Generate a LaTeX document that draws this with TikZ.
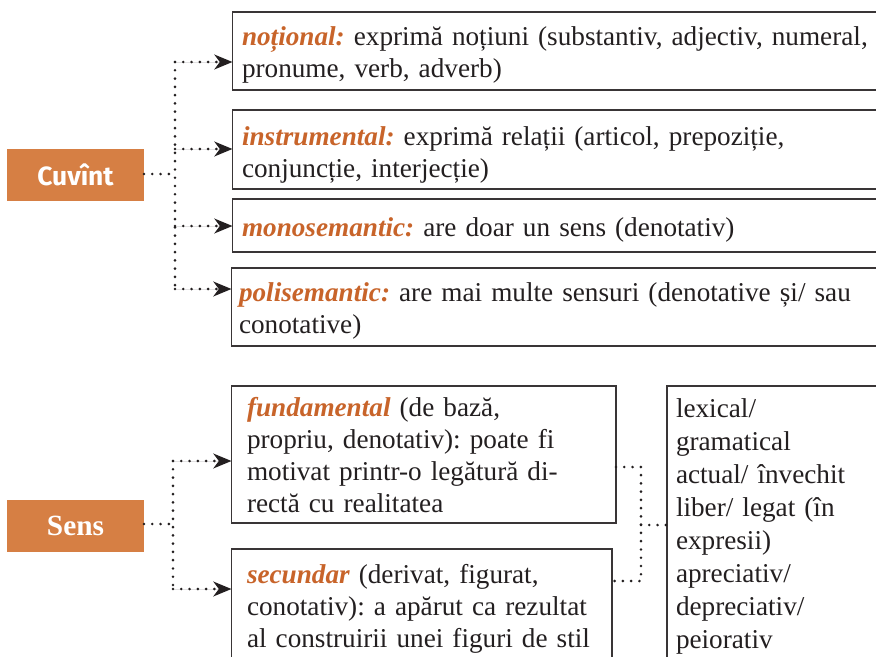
\documentclass[tikz,border=0pt]{standalone}
\usepackage{fontspec}
\setmainfont{Liberation Serif}
\newfontfamily\headsans{Fira Sans}
\usetikzlibrary{arrows.meta,fit}
\definecolor{boxorange}{HTML}{D67F44}
\definecolor{labelorange}{HTML}{C8642A}
\definecolor{ink}{HTML}{231F20}
\newcommand\kw[1]{\textcolor{labelorange}{\bfseries\itshape #1}}
\frenchspacing
\begin{document}
\begin{tikzpicture}[x=0.75pt,y=-0.75pt,
  every node/.style={inner sep=0pt, outer sep=0pt},
  head/.style={fill=boxorange, text=white, minimum width=102.75pt, minimum height=39pt},
  frame/.style={draw=ink!90, line width=1pt},
  body/.style={anchor=base west, align=left, text=ink, text width=560pt,
    font=\fontsize{20.4}{24}\selectfont},
  bodywide/.style={body, font=\fontsize{20.4}{24.75}\selectfont},
  dotline/.style={draw=ink, line width=2.2pt, dash pattern=on 0pt off 6.2pt, line cap=round},
  arr/.style={-{Stealth[length=13.5pt,width=11pt,inset=4pt]}, fill=ink}
]
\clip (0,0) rectangle (876,657);
\fill[white] (0,0) rectangle (876,657);

% heads
\node[head, font=\headsans\bfseries\fontsize{19.8}{22}\selectfont] (cuv) at (75.5,175) {Cuvînt};
\node[head, font=\bfseries\fontsize{22}{24}\selectfont] (sens) at (75.5,525.5) {Sens};

% top boxes
\node[frame, fit={(232.5,12) (900,90)}] (b1) {};
\node[frame, fit={(232.5,110) (900,189)}] (b2) {};
\node[frame, fit={(232.5,199) (900,252)}] (b3) {};
\node[frame, fit={(231.5,268) (900,346)}] (b4) {};

\node[body] (t1) at (242,45) {\kw{noțional:} exprimă noțiuni (substantiv, adjectiv, numeral,\\pronume, verb, adverb)};
\node[body] (t2) at (242,145) {\kw{instrumental:} exprimă relații (articol, prepoziție,\\conjuncție, interjecție)};
\node[body] (t3) at (242,236) {\kw{monosemantic:} are doar un sens (denotativ)};
\node[body] (t4) at (239,301) {\kw{polisemantic:} are mai multe sensuri (denotative și/ sau\\conotative)};

% bottom boxes
\node[frame, fit={(231.5,386) (616,523)}] (fund) {};
\node[frame, fit={(231.5,549) (612,700)}] (sec) {};
\node[frame, fit={(667,386) (900,700)}] (rbox) {};

\node[body] (t5) at (247,416) {\kw{fundamental} (de bază,\\propriu, denotativ): poate fi\\motivat printr-o legătură di-\\rectă cu realitatea};
\node[body] (t6) at (247,583) {\kw{secundar} (derivat, figurat,\\conotativ): a apărut ca rezultat\\al construirii unei figuri de stil};
\node[bodywide] (t7) at (676,417) {lexical/\\gramatical\\actual/ învechit\\liber/ legat (în\\expresii)\\apreciativ/\\depreciativ/\\peiorativ};

% connectors Cuvînt
\coordinate (cj) at (175,174);
\coordinate (a1) at (175,62);
\coordinate (a2) at (175,149);
\coordinate (a3) at (175,226);
\coordinate (a4) at (175,289);
\draw[dotline] (cuv.east |- cj) -- (cj);
\draw[dotline] (a1) -- (a4);
\draw[dotline,arr] (a1) -- (a1 -| b1.west);
\draw[dotline,arr] (a2) -- (a2 -| b2.west);
\draw[dotline,arr] (a3) -- (a3 -| b3.west);
\draw[dotline,arr] (a4) -- (a4 -| b4.west);

% connectors Sens
\coordinate (sj) at (173,524);
\coordinate (s1) at (173,461);
\coordinate (s2) at (173,589);
\draw[dotline] (sens.east |- sj) -- (sj);
\draw[dotline] (s1) -- (s2);
\draw[dotline,arr] (s1) -- (s1 -| fund.west);
\draw[dotline,arr] (s2) -- (s2 -| sec.west);

% right connectors
\coordinate (rf) at (641,467);
\coordinate (rs) at (641,581);
\coordinate (rk) at (641,525);
\draw[dotline] (rf -| fund.east) -- (rf) -- (rs) -- (rs -| sec.east);
\draw[dotline] (rk) -- (rk -| rbox.west);
\end{tikzpicture}
\end{document}
